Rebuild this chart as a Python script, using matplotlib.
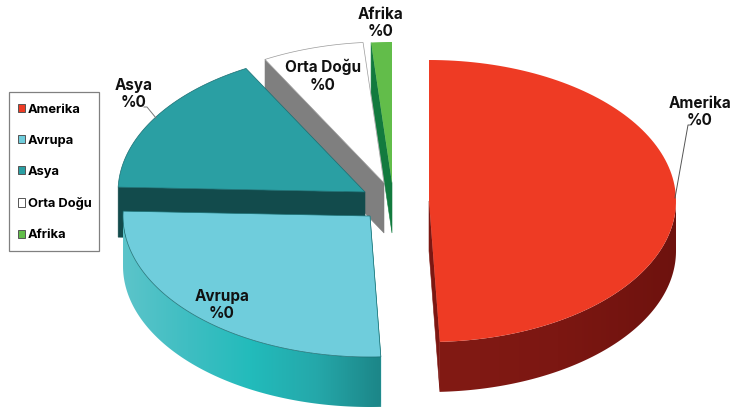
import numpy as np
import matplotlib
matplotlib.use("Agg")
import matplotlib.pyplot as plt
from matplotlib.patches import Polygon, Patch, Rectangle
from matplotlib.colors import LinearSegmentedColormap

# slice shares (the labels themselves all say %0)
regions = ["Amerika", "Avrupa", "Asya", "Orta Doğu", "Afrika"]
shares = [49.3, 26.25, 16.45, 6.65, 1.35]
pct_labels = ["%0", "%0", "%0", "%0", "%0"]

# look of the slices
top_colors = ["#EE3B24", "#6FCDDC", "#2A9FA3", "#FFFFFF", "#62BD4A"]
side_colors = ["#7C1712", "#2AA5A8", "#124B4C", "#7F7F7F", "#127A3E"]
edge_colors = ["none", "#1B6E72", "#1B6E72", "#9A9A9A", "none"]
apex_x = [429, 370, 365, 384, 392]
apex_y = [201, 216, 192, 183, 183]
label_xy = [(700, 112), (222, 305), (134, 94), (323, 76), (381, 23)]
draw_order = [4, 3, 2, 1, 0]

rx, ry = 247, 141
depth = 50
font = "Inter"

fig = plt.figure(figsize=(7.33, 4.07), dpi=100)
ax = fig.add_axes([0, 0, 1, 1])
ax.set_xlim(0, 733)
ax.set_ylim(407, 0)
ax.axis("off")


def rim(cx, cy, a0, a1, n=120):
    # angles run clockwise from the top of the ellipse
    t = np.radians(np.linspace(a0, a1, n))
    return np.column_stack([cx + rx * np.sin(t), cy - ry * np.cos(t)])


def gradient_wall(pts, colors, z):
    cmap = LinearSegmentedColormap.from_list("wall", colors)
    clip = Polygon(pts, closed=True, fc="none", ec="none", transform=ax.transData)
    ax.add_patch(clip)
    x0, x1 = pts[:, 0].min(), pts[:, 0].max()
    y0, y1 = pts[:, 1].min(), pts[:, 1].max()
    im = ax.imshow(np.linspace(0, 1, 256)[None, :], cmap=cmap, aspect="auto",
                   extent=(x0, x1, y1, y0), zorder=z)
    im.set_clip_path(clip)


ends = np.cumsum(shares) / np.sum(shares) * 360
starts = np.concatenate([[0], ends[:-1]])

for z, i in enumerate(draw_order):
    cx, cy = apex_x[i], apex_y[i]
    a0, a1 = starts[i], ends[i]
    base = 10 + z * 3
    outer = rim(cx, cy, a0, a1)

    # flat cut face, the one facing the viewer
    cut = a1 if regions[i] == "Amerika" else a0
    p = rim(cx, cy, cut, cut, 1)[0]
    ax.add_patch(Polygon([(cx, cy), p, p + (0, depth), (cx, cy + depth)], closed=True,
                         fc=side_colors[i], ec=side_colors[i], lw=0.4, zorder=base))

    # curved outer wall, only the lower half of the rim shows
    lo, hi = max(a0, 90), min(a1, 270)
    if hi > lo:
        arc = rim(cx, cy, lo, hi)
        wall = np.vstack([arc, arc[::-1] + (0, depth)])
        if regions[i] == "Avrupa":
            gradient_wall(wall, ["#5CC4CA", "#3FBEC2", "#22BBBB", "#25A8AA", "#1C8688"], base + 1)
        else:
            gradient_wall(wall, ["#821A14", "#7C1712", "#6E120E"], base + 1)

    ax.add_patch(Polygon(np.vstack([[(cx, cy)], outer]), closed=True,
                         fc=top_colors[i], ec=edge_colors[i], lw=0.5, zorder=base + 2))

# leader lines for the two labels sitting outside the pie
ax.plot([675, 688, 691], [198, 125, 125], color="#555555", lw=0.7, zorder=30)
ax.plot([156, 147, 144], [118, 107, 107], color="#777777", lw=0.7, zorder=30)

for name, pct, xy in zip(regions, pct_labels, label_xy):
    ax.text(xy[0], xy[1], name + "\n" + pct, ha="center", va="center", fontsize=11,
            family=font, fontweight="bold", color="#111111", linespacing=1.22, zorder=40)

# legend frame is its own rectangle, the padding inside it is uneven
ax.add_patch(Rectangle((9, 92), 90, 159, fc="white", ec="#808080", lw=0.9, zorder=49))
handles = [Patch(fc=c, ec="#555555", lw=0.7) for c in top_colors]
leg = ax.legend(handles, regions, loc="upper left", bbox_to_anchor=(9, 95),
                bbox_transform=ax.transData, borderaxespad=0, frameon=False,
                labelspacing=1.48, handlelength=0.58, handleheight=0.58, handletextpad=0.2,
                borderpad=0.68, prop={"family": font, "weight": "bold", "size": 9.3})
leg.set_zorder(50)

fig.savefig("out.png", dpi=100)
